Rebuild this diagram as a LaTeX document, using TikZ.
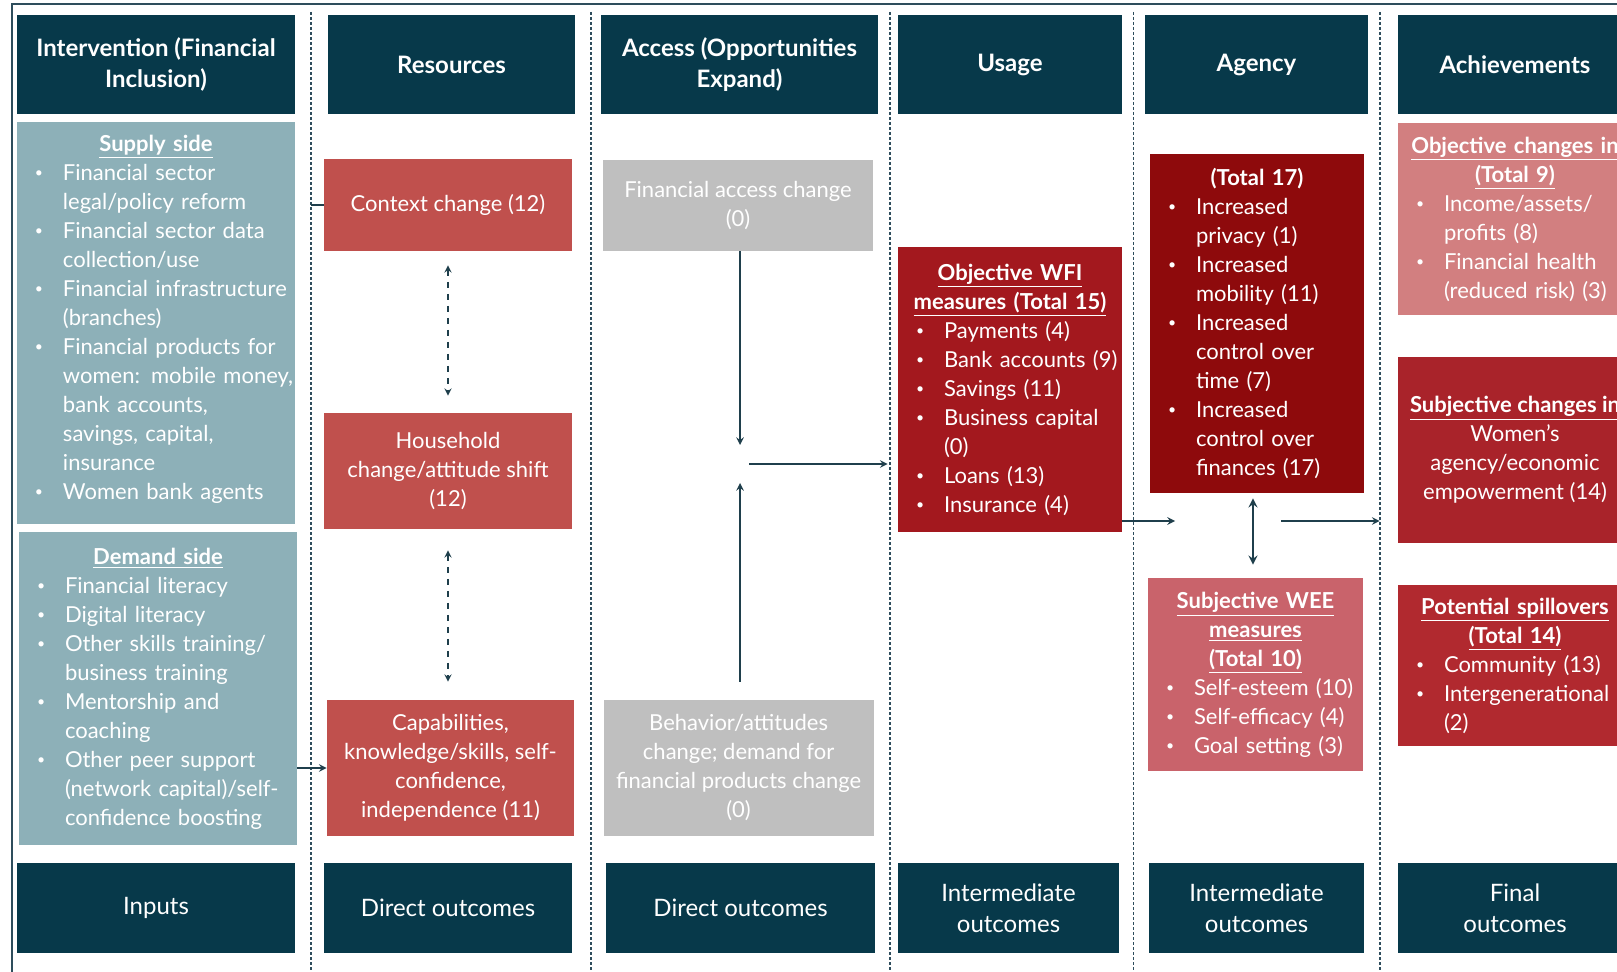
\documentclass[tikz,border=0pt]{standalone}
\usepackage{fontspec}
\setmainfont{Lato}
\usepackage{tikz}
\usetikzlibrary{arrows, positioning}

\definecolor{hdcol}{HTML}{07394A}
\definecolor{inpcol}{HTML}{8DB0B8}
\definecolor{ctxcol}{HTML}{C0504D}
\definecolor{grycol}{HTML}{BFBFBF}
\definecolor{wficol}{HTML}{A3181E}
\definecolor{agcol}{HTML}{8E0A0C}
\definecolor{weecol}{HTML}{C9636B}
\definecolor{objcol}{HTML}{D27F80}
\definecolor{subcol}{HTML}{A9232A}
\definecolor{spcol}{HTML}{B1292F}
\definecolor{arrcol}{HTML}{1F3F4C}
\definecolor{lncol}{HTML}{2E4D5C}

\newcommand{\boxctr}[1]{\makebox[\linewidth][c]{#1}}
\newcommand{\boxttl}[1]{\boxctr{\textbf{\underline{#1}}}}
\newcommand{\bitem}[1]{\hspace*{9pt}\makebox[14pt][l]{\raisebox{1.3pt}{\fontsize{7}{7}\selectfont\textbullet}}\mbox{#1}}
\newcommand{\bcont}[1]{\hspace*{23pt}\mbox{#1}}

\begin{document}
\begin{tikzpicture}[x=0.5pt, y=-0.5pt, >=stealth,
colhead/.style={fill=hdcol, text=white, font=\bfseries\fontsize{12}{15.5}\selectfont, align=center, inner sep=0pt, minimum height=49.5pt},
colfoot/.style={fill=hdcol, text=white, font=\fontsize{12}{15.5}\selectfont, align=center, inner sep=0pt, minimum height=45pt},
midbox/.style={text=white, font=\fontsize{11}{14.5}\selectfont, align=center, inner sep=0pt},
listbox/.style={text=white, font=\fontsize{11}{14.5}\selectfont, align=left, inner sep=0pt},
divline/.style={dash pattern=on 1.5pt off 1pt, color=lncol, line width=0.65pt},
flow/.style={->, color=arrcol, line width=0.7pt}]

\useasboundingbox (0,0) rectangle (1617,972);
\clip (0,0) rectangle (1617,972);
\fill[white] (0,0) rectangle (1617,972);
\draw[color=lncol, line width=0.8pt] (12,4) rectangle (1700,1000);

% column dividers
\draw[divline] (311,12) -- (311,972);
\draw[divline] (591,12) -- (591,972);
\draw[divline] (890,12) -- (890,972);
\draw[divline] (1133.5,12) -- (1133.5,972);
\draw[divline] (1380,12) -- (1380,972);

% headers
\node[colhead, minimum width=139pt] (intv) at (156,64.5) {Intervention (Financial\\Inclusion)};
\node[colhead, minimum width=123.5pt] (res) at (451.5,64.5) {Resources};
\node[colhead, minimum width=138.5pt] (acc) at (739.5,64.5) {Access (Opportunities\\Expand)};
\node[colhead, minimum width=112pt] (usg) at (1010,64.5) {Usage};
\node[colhead, minimum width=111.5pt] (agen) at (1256.5,64.5) {Agency};
\node[colhead, minimum width=117pt] (achv) at (1515,64.5) {Achievements};

% inputs
\node[listbox, fill=inpcol, text width=139pt, minimum height=201pt] (supply) at (156,323) {\boxttl{Supply side}\\
\bitem{Financial sector}\\ \bcont{legal/policy reform}\\
\bitem{Financial sector data}\\ \bcont{collection/use}\\
\bitem{Financial infrastructure}\\ \bcont{(branches)}\\
\bitem{Financial products for}\\ \bcont{women: mobile money,}\\ \bcont{bank accounts,}\\ \bcont{savings, capital,}\\ \bcont{insurance}\\
\bitem{Women bank agents}\par\vspace{4pt}};
\node[listbox, fill=inpcol, text width=139pt, minimum height=156.5pt] (demand) at (158,688.5) {\boxttl{Demand side}\\
\bitem{Financial literacy}\\
\bitem{Digital literacy}\\
\bitem{Other skills training/}\\ \bcont{business training}\\
\bitem{Mentorship and}\\ \bcont{coaching}\\
\bitem{Other peer support}\\ \bcont{(network capital)/self-}\\ \bcont{confidence boosting}};

% resources
\node[midbox, fill=ctxcol, minimum width=124pt, minimum height=46pt] (ctx) at (448,205) {Context change (12)};
\node[midbox, fill=ctxcol, minimum width=124pt, minimum height=58pt] (house) at (448,471) {Household\\change/attitude shift\\(12)};
\node[midbox, fill=ctxcol, minimum width=123.5pt, minimum height=68pt] (capab) at (450.5,768) {Capabilities,\\knowledge/skills, self-\\confidence,\\independence (11)};

% access
\node[midbox, fill=grycol, minimum width=135.3pt, minimum height=45.5pt] (faccess) at (738,205.5) {Financial access change\\(0)};
\node[midbox, fill=grycol, minimum width=135pt, minimum height=68pt] (behav) at (738.6,768) {Behavior/attitudes\\change; demand for\\financial products change\\(0)};

% usage
\node[listbox, fill=wficol, text width=112pt, minimum height=142.5pt] (wfi) at (1010,389.5) {\boxttl{Objective WFI}\\ \boxttl{measures (Total 15)}\\
\bitem{Payments (4)}\\
\bitem{Bank accounts (9)}\\
\bitem{Savings (11)}\\
\bitem{Business capital}\\ \bcont{(0)}\\
\bitem{Loans (13)}\\
\bitem{Insurance (4)}};

% agency
\node[listbox, fill=agcol, text width=107pt, minimum height=169.5pt] (agbox) at (1257,323.5) {\boxctr{\textbf{(Total 17)}}\\
\bitem{Increased}\\ \bcont{privacy (1)}\\
\bitem{Increased}\\ \bcont{mobility (11)}\\
\bitem{Increased}\\ \bcont{control over}\\ \bcont{time (7)}\\
\bitem{Increased}\\ \bcont{control over}\\ \bcont{finances (17)}};
\node[listbox, fill=weecol, text width=107.5pt, minimum height=96.5pt] (wee) at (1255.5,674.5) {\boxttl{Subjective WEE}\\ \boxttl{measures}\\ \boxttl{(Total 10)}\\
\bitem{Self-esteem (10)}\\
\bitem{Self-efficacy (4)}\\
\bitem{Goal setting (3)}};

% achievements
\node[listbox, fill=objcol, text width=117pt, minimum height=96pt] (objch) at (1515,219) {\boxttl{Objective changes in}\\ \boxttl{(Total 9)}\\
\bitem{Income/assets/}\\ \bcont{profits (8)}\\
\bitem{Financial health}\\ \bcont{(reduced risk) (3)}};
\node[midbox, fill=subcol, minimum width=117pt, minimum height=93pt] (subch) at (1515,450) {\textbf{\underline{Subjective changes in}}\\Women's\\agency/economic\\empowerment (14)};
\node[listbox, fill=spcol, text width=117pt, minimum height=80.5pt] (spill) at (1515,665.5) {\boxttl{Potential spillovers}\\ \boxttl{(Total 14)}\\
\bitem{Community (13)}\\
\bitem{Intergenerational}\\ \bcont{(2)}};

% footers
\node[colfoot, minimum width=139pt] (finp) at (156,908) {Inputs};
\node[colfoot, minimum width=124pt] (fdir1) at (448,908) {Direct outcomes};
\node[colfoot, minimum width=134.5pt] (fdir2) at (740.5,908) {Direct outcomes};
\node[colfoot, minimum width=110.5pt] (fint1) at (1008.5,908) {Intermediate\\outcomes};
\node[colfoot, minimum width=107.5pt] (fint2) at (1256.5,908) {Intermediate\\outcomes};
\node[colfoot, minimum width=117pt] (ffin) at (1515,908) {Final\\outcomes};

% connectors
\coordinate (stub) at (311,205);
\draw[color=arrcol, line width=0.7pt] (stub) -- (ctx.west);
\draw[flow] (demand.east |- capab.west) -- (capab.west);
\draw[flow, <->, dashed, line width=0.6pt, shorten <=7pt, shorten >=8.5pt] (ctx.south) -- (house.north);
\draw[flow, <->, dashed, line width=0.6pt, shorten <=10.5pt, shorten >=9pt] (house.south) -- (capab.north -| house.south);

\coordinate (jn) at (740,464);
\draw[flow, shorten >=9.5pt] (faccess.south -| jn) -- (jn);
\draw[flow, shorten <=9pt, shorten >=9.5pt] (behav.north -| jn) -- (jn);
\draw[flow, shorten <=4.5pt, shorten >=5pt] (jn) -- (jn -| wfi.west);

\coordinate (jn2) at (1253,521);
\draw[flow, shorten >=39pt] (jn2 -| wfi.east) -- (jn2);
\draw[flow, <->, line width=1pt, shorten <=2.5pt, shorten >=6.5pt] (agbox.south -| jn2) -- (wee.north -| jn2);
\draw[flow, shorten <=14pt, shorten >=9pt] (jn2) -- (jn2 -| subch.west);
\end{tikzpicture}
\end{document}
